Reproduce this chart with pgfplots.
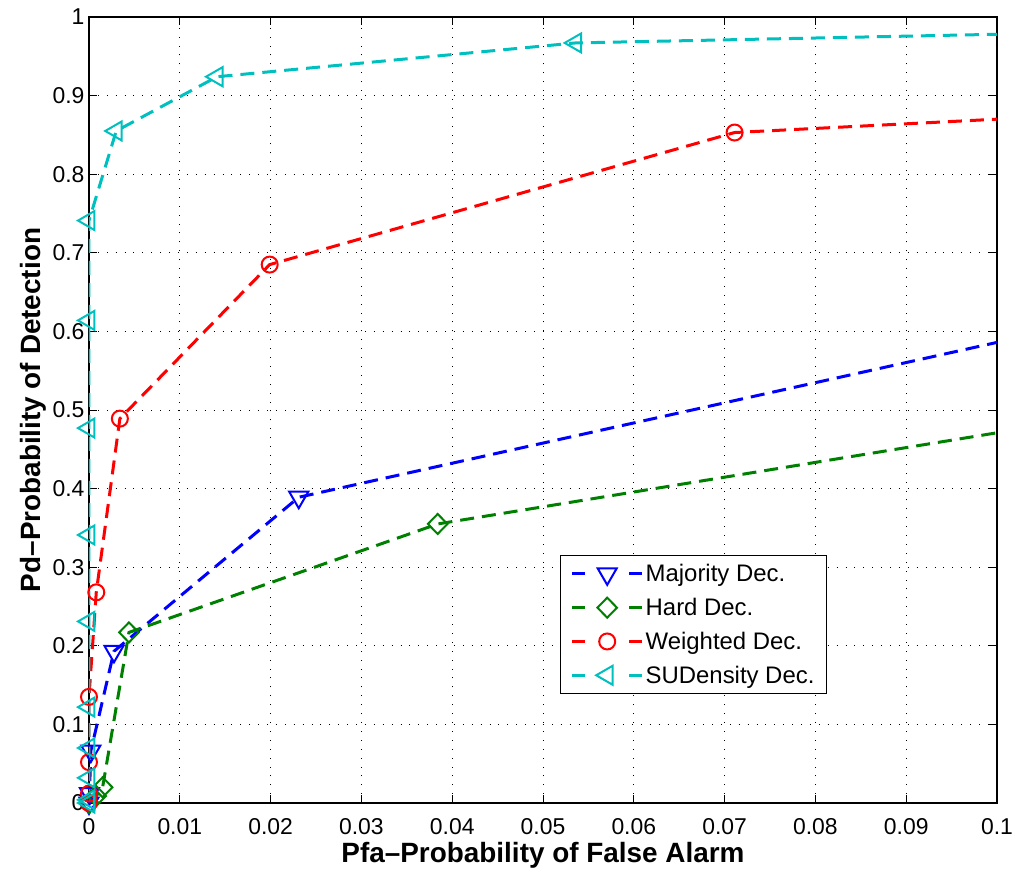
\documentclass[border=0pt]{standalone}
\usepackage{fontspec}
\setmainfont{Liberation Sans}
\usepackage{pgfplots}
\pgfplotsset{compat=1.18}
\definecolor{mblue}{rgb}{0,0,1}
\definecolor{mgreen}{rgb}{0,0.5,0}
\definecolor{mred}{rgb}{1,0,0}
\definecolor{mcyan}{rgb}{0,0.75,0.75}
\begin{document}
\begin{tikzpicture}
\begin{axis}[
  scale only axis,
  width=908bp, height=786bp,
  xmin=0, xmax=0.1, ymin=0, ymax=1,
  xtick={0,0.01,0.02,0.03,0.04,0.05,0.06,0.07,0.08,0.09,0.1},
  xticklabels={0,0.01,0.02,0.03,0.04,0.05,0.06,0.07,0.08,0.09,0.1},
  ytick={0,0.1,0.2,0.3,0.4,0.5,0.6,0.7,0.8,0.9,1},
  yticklabels={0,0.1,0.2,0.3,0.4,0.5,0.6,0.7,0.8,0.9,1},
  tick align=inside, major tick length=8bp,
  tick style={black, line width=0.9bp},
  xtick pos=both, ytick pos=both,
  axis line style={black, line width=1.8bp},
  grid=major,
  major grid style={black, line width=0.9bp, dash pattern=on 0.9bp off 8bp},
  ticklabel style={font=\fontsize{23}{26}\selectfont},
  xticklabel style={yshift=-12bp},
  yticklabel style={xshift=-1bp},
  xlabel={\bfseries Pfa--Probability of False Alarm},
  ylabel={\bfseries Pd--Probability of Detection},
  label style={font=\fontsize{28}{30}\selectfont},
  xlabel style={yshift=-1bp},
  ylabel style={yshift=-1bp},
  legend style={at={(0.519,0.3155)}, anchor=north west, draw=black, line width=0.9bp,
    font=\fontsize{24}{27}\selectfont, row sep=11bp, inner xsep=10bp, inner ysep=7bp},
  legend cell align=left,
  legend image code/.code={
    \draw[#1, mark=none, solid] (0bp,0bp) -- (13bp,0bp);
    \draw[#1, mark=none, solid] (57bp,0bp) -- (70bp,0bp);
    \draw[#1] plot coordinates {(35bp,0bp)};
  },
  every axis plot/.append style={line width=3bp, dash pattern=on 14bp off 8bp},
]
\addplot[mblue, mark=triangle, mark size=11bp, mark options={solid, rotate=180, line width=2bp}, mark indices={1,2,3,4,5}]
  coordinates {(0,0) (0.00005,0.012) (0.0002,0.066) (0.00275,0.193) (0.0231,0.389) (0.1,0.586)};
\addlegendentry{Majority Dec.}
\addplot[mgreen, mark=diamond, mark size=10bp, mark options={solid, xscale=1.3, line width=2bp}, mark indices={1,2,3,4,5}]
  coordinates {(0,0) (0.0008,0.009) (0.0015,0.020) (0.0044,0.217) (0.0384,0.355) (0.1,0.471)};
\addlegendentry{Hard Dec.}
\addplot[mred, mark=o, mark size=8bp, mark options={solid, line width=2bp}, mark indices={1,2,3,4,5,6,7,8}]
  coordinates {(0,0) (0,0.012) (0,0.052) (0,0.135) (0.0008,0.268) (0.0034,0.489) (0.0199,0.685) (0.0711,0.853) (0.1,0.870)};
\addlegendentry{Weighted Dec.}
\addplot[mcyan, mark=triangle, mark size=11bp, mark options={solid, rotate=90, line width=2bp}, mark indices={1,2,3,4,5,6,7,8,9,10,11,12,13}]
  coordinates {(0,0) (0,0.004) (0,0.032) (0,0.07) (0,0.122) (0,0.231) (0,0.341) (0,0.477) (0,0.614) (0,0.741) (0.003,0.855) (0.0141,0.924) (0.0536,0.967) (0.1,0.978)};
\addlegendentry{SUDensity Dec.}
\coordinate (ll) at (rel axis cs:0,0);
\coordinate (ur) at (rel axis cs:1,1);
\end{axis}
\pgfresetboundingbox
\path ([shift={(-89bp,-70bp)}]ll) rectangle ([shift={(21bp,17bp)}]ur);
\end{tikzpicture}
\end{document}
